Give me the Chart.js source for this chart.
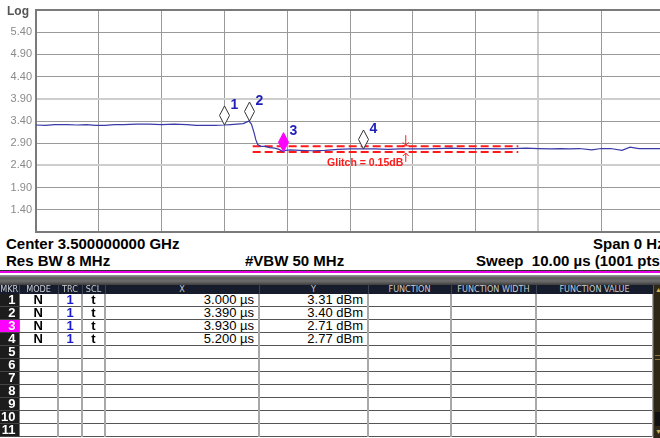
<!DOCTYPE html>
<html>
<head>
<meta charset="utf-8">
<script src="https://cdn.jsdelivr.net/npm/chart.js@4.4.1/dist/chart.umd.min.js"></script>
<style>
  html, body { margin:0; padding:0; background:#fff; }
  body { width:660px; height:438px; overflow:hidden; position:relative; font-family:"Liberation Sans", Arial, sans-serif; }
  #chartBox { position:absolute; left:0; top:0; width:668px; height:234px; }
  .txt { position:absolute; white-space:nowrap; font-weight:bold; font-size:15px; color:#000; line-height:17px; }
  #logLbl { position:absolute; left:7px; top:4px; font-size:12px; font-weight:bold; color:#555; }
  #magenta { position:absolute; left:0; top:270px; width:660px; height:1px; background:#333; }
  #magenta2 { position:absolute; left:0; top:271px; width:660px; height:2px; background:#e600e6; }
  #band { position:absolute; left:0; top:275px; width:660px; height:10px; background:linear-gradient(#9a9a9a 0px, #5a5a5a 3px, #6e6e6e 6px, #3c3c3c 10px); }
  #tbl { position:absolute; left:0; top:285px; border-collapse:collapse; table-layout:fixed; }
  #tbl td, #tbl th { padding:0; overflow:hidden; white-space:nowrap; }
  #tbl th { height:9px; background:#161c2b; color:#c9ccd2; font-family:"DejaVu Sans Condensed","DejaVu Sans",sans-serif; font-weight:normal; font-size:9px; line-height:9px; border-right:1px solid #3b4254; text-align:center; }
  #tbl td { height:12px; line-height:12px; font-size:13px; border-bottom:1px solid #555; border-right:2px solid #a8a8a8; background:#fff; }
  #tbl td.mkr { background:#1c1c1c; color:#fff; font-weight:bold; text-align:right; padding-right:3px; border-right:1px solid #777; border-bottom:1px solid #444; }
  #tbl td.mkr.act { background:#ff00ff; }
  #tbl td.c { text-align:center; font-weight:bold; }
  #tbl td.r { text-align:right; padding-right:4px; }
  #tbl td.blue { color:#1a1ad0; }
  #scroll { position:absolute; left:653px; top:285px; width:7px; height:153px; background:#2e2716; border-left:1px solid #6b5a2c; }
  #scroll .a1 { position:absolute; left:1px; top:1px; width:6px; height:8px; color:#d4b255; font-size:7px; line-height:8px; }
  #scroll .a2 { position:absolute; left:1px; top:143px; width:6px; height:8px; color:#d4b255; font-size:7px; line-height:8px; }
  #scroll .grip { position:absolute; left:1px; top:70px; width:6px; height:3px; border-top:1px solid #8a7640; border-bottom:1px solid #8a7640; }
  #scroll .dk { position:absolute; left:1px; top:127px; width:6px; height:14px; background:#111; }
</style>
</head>
<body>
<div id="chartBox"><canvas id="c" width="668" height="234"></canvas></div>
<div id="logLbl">Log</div>
<div class="txt" style="left:6px; top:235px;">Center 3.500000000 GHz</div>
<div class="txt" style="left:593px; top:235px;">Span 0 Hz</div>
<div class="txt" style="left:6px; top:252px;">Res BW 8 MHz</div>
<div class="txt" style="left:245px; top:252px;">#VBW 50 MHz</div>
<div class="txt" style="left:476px; top:252px;">Sweep&nbsp; 10.00 µs (1001 pts)</div>
<div id="magenta"></div><div id="magenta2"></div>
<div id="band"></div>
<table id="tbl"></table>
<div id="scroll"><div class="a1">&#9650;</div><div class="grip"></div><div class="dk"></div><div class="a2">&#9660;</div></div>
<script>
// ---- data ----
const xTicks = [0,1,2,3,4,5,6,7,8,9,10];
const yTicks = [0.9,1.4,1.9,2.4,2.9,3.4,3.9,4.4,4.9,5.4,5.9];
const traceT = [0,0.15,0.3,0.5,0.65,0.8,0.95,1.1,1.25,1.4,1.6,1.8,2.0,2.2,2.4,2.55,2.7,2.85,3.0,3.1,3.2,3.3,3.36,3.39,3.43,3.47,3.5,3.53,3.58,3.65,3.72,3.8,3.87,3.93,3.98,4.05,4.2,4.4,4.6,4.8,5.0,5.2,5.4,5.6,5.8,6.0,6.2,6.4,6.6,6.8,7.0,7.2,7.4,7.6,7.8,8.0,8.2,8.35,8.5,8.65,8.85,9.0,9.15,9.33,9.46,9.6,9.8,10];
const traceV = [3.31,3.30,3.32,3.32,3.31,3.32,3.30,3.30,3.32,3.32,3.33,3.33,3.32,3.33,3.32,3.30,3.30,3.30,3.31,3.32,3.33,3.34,3.38,3.40,3.33,3.15,2.98,2.87,2.83,2.83,2.80,2.79,2.76,2.71,2.74,2.75,2.74,2.73,2.74,2.76,2.77,2.77,2.77,2.76,2.77,2.77,2.77,2.78,2.79,2.78,2.78,2.78,2.77,2.78,2.79,2.78,2.77,2.78,2.77,2.78,2.75,2.78,2.78,2.74,2.81,2.78,2.78,2.78];
const markerNums = ['1','2','3','4'];
const markerX = [3.000, 3.390, 3.930, 5.200];
const markerY = [3.31, 3.40, 2.71, 2.77];
const markerMode = ['N','N','N','N'];
const markerTrc = ['1','1','1','1'];
const markerScl = ['t','t','t','t'];
const activeMarker = '3';
const tableRows = 11;
const glitchSpanT = [3.45, 7.68];
const glitchUpper = 2.83;
const glitchLower = 2.70;
const glitchArrowT = 5.88;
const glitchArrowTop = 3.08;
const glitchArrowBottom = 2.48;
const glitchLabel = 'Glitch = 0.15dB';
const glitchLabelY = 2.45;
const headers = ['MKR','MODE','TRC','SCL','X','Y','FUNCTION','FUNCTION WIDTH','FUNCTION VALUE'];
const colWidths = [19,39,24,23,154,109,83,85,117];

// ---- table ----
(function(){
  const t = document.getElementById('tbl');
  let cg = '<colgroup>' + colWidths.map(w=>'<col style="width:'+w+'px">').join('') + '</colgroup>';
  let h = '<tr>' + headers.map(s=>'<th>'+s+'</th>').join('') + '</tr>';
  let body = '';
  for (let r=0; r<tableRows; r++){
    const n = String(r+1);
    const has = r < markerNums.length;
    body += '<tr>';
    body += '<td class="mkr'+(n===activeMarker?' act':'')+'">'+n+'</td>';
    body += '<td class="c">'+(has?markerMode[r]:'')+'</td>';
    body += '<td class="c blue">'+(has?markerTrc[r]:'')+'</td>';
    body += '<td class="c">'+(has?markerScl[r]:'')+'</td>';
    body += '<td class="r">'+(has?markerX[r].toFixed(3)+' µs':'')+'</td>';
    body += '<td class="r">'+(has?markerY[r].toFixed(2)+' dBm':'')+'</td>';
    body += '<td></td><td></td><td></td>';
    body += '</tr>';
  }
  t.innerHTML = cg + h + body;
  t.style.width = colWidths.reduce((a,b)=>a+b,0)+'px';
})();

// ---- chart ----
const annot = {
  id:'annot',
  afterDatasetsDraw(chart){
    const {ctx, scales:{x, y}} = chart;
    ctx.save();
    const ax = x.getPixelForValue(glitchArrowT);
    const yU = y.getPixelForValue(glitchUpper), yL = y.getPixelForValue(glitchLower);
    const yT = y.getPixelForValue(glitchArrowTop), yB = y.getPixelForValue(glitchArrowBottom);
    ctx.strokeStyle = '#ff1a1a'; ctx.lineWidth = 1;
    ctx.beginPath();
    ctx.moveTo(ax+0.5, yT); ctx.lineTo(ax+0.5, yU-1);
    ctx.moveTo(ax-2.5, yU-4); ctx.lineTo(ax+0.5, yU-1); ctx.lineTo(ax+3.5, yU-4);
    ctx.moveTo(ax-3, yU-0.5); ctx.lineTo(ax+4, yU-0.5);
    ctx.moveTo(ax+0.5, yB); ctx.lineTo(ax+0.5, yL+1);
    ctx.moveTo(ax-2.5, yL+4); ctx.lineTo(ax+0.5, yL+1); ctx.lineTo(ax+3.5, yL+4);
    ctx.stroke();
    ctx.fillStyle = '#ff1a1a';
    ctx.font = 'bold 10.5px "Liberation Sans", Arial, sans-serif';
    ctx.textAlign = 'right'; ctx.textBaseline = 'middle';
    ctx.fillText(glitchLabel, ax - 2, y.getPixelForValue(glitchLabelY));
    markerX.forEach((mx, i) => {
      const px = Math.round(x.getPixelForValue(mx)) + 0.5, py = y.getPixelForValue(markerY[i]);
      const act = markerNums[i] === activeMarker;
      ctx.beginPath();
      ctx.moveTo(px, py); ctx.lineTo(px+5, py-9.5); ctx.lineTo(px, py-19); ctx.lineTo(px-5, py-9.5); ctx.closePath();
      ctx.fillStyle = act ? '#ff00ff' : '#ffffff';
      ctx.fill();
      ctx.strokeStyle = act ? '#ff00ff' : '#333333';
      ctx.lineWidth = 1;
      ctx.stroke();
      ctx.fillStyle = '#1f1fb8';
      ctx.font = 'bold 14px "Liberation Sans", Arial, sans-serif';
      ctx.textAlign = 'left'; ctx.textBaseline = 'middle';
      ctx.fillText(markerNums[i], px + 6, py - 20);
    });
    ctx.restore();
  }
};

const tracePts = traceT.map((t,i)=>({x:t, y:traceV[i]}));
const upperPts = glitchSpanT.map(t=>({x:t, y:glitchUpper}));
const lowerPts = glitchSpanT.map(t=>({x:t, y:glitchLower}));

new Chart(document.getElementById('c'), {
  type:'line',
  data:{ datasets:[
    { data:upperPts, borderColor:'#ff1a1a', borderWidth:2, borderDash:[8,4], pointRadius:0, order:2 },
    { data:lowerPts, borderColor:'#ff1a1a', borderWidth:2, borderDash:[8,4], pointRadius:0, order:2 },
    { data:tracePts, borderColor:'#3a3aa8', borderWidth:1.2, pointRadius:0, tension:0, order:1 }
  ]},
  options:{
    responsive:false, animation:false, devicePixelRatio:1,
    layout:{ padding:{ left:0, top:10, right:4, bottom:2 } },
    plugins:{ legend:{display:false}, tooltip:{enabled:false} },
    scales:{
      x:{ type:'linear', min:0, max:10,
        afterBuildTicks:s=>{ s.ticks = xTicks.map(v=>({value:v})); },
        afterFit:s=>{ s.height = 0; s.paddingLeft=0; s.paddingRight=0; },
        ticks:{ display:false },
        border:{ display:true, color:'#7a7a7a', width:2 },
        grid:{ drawTicks:false,
          color:c=> c.tick.value===0 ? '#7a7a7a' : (c.tick.value===8 ? '#cdcdcd' : '#9a9a9a'),
          lineWidth:c=> (c.tick.value===8||c.tick.value===0) ? 2 : 1 }
      },
      y:{ type:'linear', min:0.9, max:5.9,
        afterBuildTicks:s=>{ s.ticks = yTicks.map(v=>({value:v})); },
        afterFit:s=>{ s.width = 36; s.paddingTop=0; s.paddingBottom=0; },
        border:{ display:true, color:'#7a7a7a', width:2 },
        ticks:{ padding:4, color:'#8a8a8a', font:{ size:11, family:'"Liberation Sans", Arial, sans-serif' },
          callback:v=> (Math.abs(v-0.9)<1e-6 || Math.abs(v-5.9)<1e-6) ? '' : v.toFixed(2) },
        grid:{ drawTicks:false,
          color:c=>{ const v=c.tick.value; if (Math.abs(v-5.9)<1e-6||Math.abs(v-0.9)<1e-6) return '#7a7a7a'; if (Math.abs(v-3.9)<1e-6||Math.abs(v-2.4)<1e-6) return '#cdcdcd'; return '#9a9a9a'; },
          lineWidth:c=>{ const v=c.tick.value; if (Math.abs(v-5.9)<1e-6||Math.abs(v-0.9)<1e-6||Math.abs(v-3.9)<1e-6||Math.abs(v-2.4)<1e-6) return 2; return 1; } }
      }
    }
  },
  plugins:[annot]
});
</script>
</body>
</html>
